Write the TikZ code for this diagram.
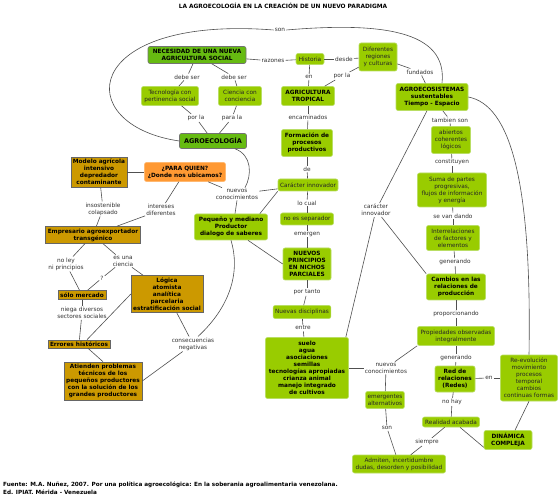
\documentclass[tikz,border=0pt]{standalone}
\usepackage{fontspec}
\setmainfont{DejaVu Sans}
\definecolor{lgreen}{RGB}{153,204,0}
\definecolor{lgborder}{RGB}{185,222,100}
\definecolor{dgreen}{RGB}{102,187,17}
\definecolor{orangebox}{RGB}{255,153,51}
\definecolor{goldbox}{RGB}{204,153,0}
\definecolor{linec}{RGB}{80,80,80}
\definecolor{lblc}{RGB}{51,51,51}
\begin{document}
\begin{tikzpicture}[x=1pt,y=-1pt,
  every node/.style={font=\fontsize{5.8pt}{7pt}\selectfont, align=center},
  base/.style={inner xsep=2pt, inner ysep=1pt, text=black!85},
  lg/.style={base, fill=lgreen, draw=lgborder, line width=0.6pt, rounded corners=2pt},
  lgb/.style={lg, text=black, font=\fontsize{5.8pt}{7pt}\selectfont\bfseries},
  dg/.style={base, text=black, fill=dgreen, draw=black!55, line width=0.6pt, rounded corners=2pt, font=\fontsize{5.8pt}{7pt}\selectfont\bfseries},
  ob/.style={base, text=black, fill=orangebox, draw=orangebox!70!white, line width=0.6pt, rounded corners=2pt, font=\fontsize{5.8pt}{7pt}\selectfont\bfseries},
  gb/.style={base, text=black, fill=goldbox, draw=black!60, line width=0.6pt, font=\fontsize{5.8pt}{7pt}\selectfont\bfseries},
  lbl/.style={inner sep=1pt, text=lblc},
  sz/.style 2 args={minimum width=#1pt, minimum height=#2pt},
  conn/.style={draw=linec, line width=0.6pt}
]
\fill[white] (0,0) rectangle (560,497);
\useasboundingbox (0,0) rectangle (560,497);

% title and source
\node[font=\fontsize{5.85pt}{7pt}\selectfont\bfseries] (title) at (283,6) {LA AGROECOLOGÍA EN LA CREACIÓN DE UN NUEVO PARADIGMA};
\node[anchor=north west, align=left, inner sep=0pt, font=\fontsize{5.7pt}{7.5pt}\selectfont\bfseries] (src) at (3,482) {Fuente: M.A. Nuñez, 2007. Por una política agroecológica: En la soberania agroalimentaria venezolana.\\Ed. IPIAT. Mérida - Venezuela};

% concept nodes
\node[dg, sz={98}{17}] (nec) at (197,55) {NECESIDAD DE UNA NUEVA\\AGRICULTURA SOCIAL};
\node[lg, sz={57}{19}] (tec) at (170,96) {Tecnología con\\pertinencia social};
\node[lg, sz={43}{19}] (cie) at (240,96) {Ciencia con\\conciencia};
\node[dg, sz={67}{15}, font=\fontsize{6.5pt}{8pt}\selectfont\bfseries] (agro) at (213,141) {AGROECOLOGÍA};
\node[ob, sz={81}{19}] (pq) at (185,172) {¿PARA QUIEN?\\¿Donde nos ubicamos?};
\node[gb, sz={56}{30}] (mod) at (99,172) {Modelo agrícola\\intensivo\\depredador\\contaminante};
\node[gb, sz={93}{17}] (emp) at (93,235) {Empresario agroexportador\\transgénico};
\node[lgb, sz={73}{26}] (peq) at (231,227) {Pequeño y mediano\\Productor\\dialogo de saberes};
\node[gb, sz={47}{9}] (sol) at (82,295) {sólo mercado};
\node[gb, sz={70}{37}] (log) at (167,294) {Lógica\\atomista\\analítica\\parcelaria\\estratificación social};
\node[gb, sz={60}{8}] (err) at (79,344) {Errores históricos};
\node[gb, sz={78}{38}] (ati) at (103,381) {Atienden problemas\\técnicos de los\\pequeños productores\\con la solución de los\\grandes productores};
\node[lg, sz={28}{11}] (his) at (310,59) {Historia};
\node[lg, sz={38}{28}] (dif) at (378,57) {Diferentes\\regiones\\y culturas};
\node[lgb, sz={53}{19}] (agt) at (308,96) {AGRICULTURA\\TROPICAL};
\node[lgb, sz={51}{27}] (for) at (307,143) {Formación de\\procesos\\productivos};
\node[lg, sz={60}{12}] (car) at (308,185) {Carácter innovador};
\node[lg, sz={53}{12}] (noe) at (307,219) {no es separador};
\node[lgb, sz={48}{32}] (nue) at (307,264) {NUEVOS\\PRINCIPIOS\\EN NICHOS\\PARCIALES};
\node[lg, sz={50}{13}] (nud) at (302,312) {Nuevas disciplinas};
\node[lgb, sz={83}{61}] (sue) at (307,368) {suelo\\agua\\asociaciones\\semillas\\tecnologías apropiadas\\crianza animal\\manejo integrado\\de cultivos};
\node[lgb, sz={72}{27}] (aes) at (432,97) {AGROECOSISTEMAS\\sustentables\\Tiempo - Espacio};
\node[lg, sz={39}{27}] (abi) at (451,140) {abiertos\\coherentes\\lógicos};
\node[lg, sz={69}{34}] (sum) at (452,190) {Suma de partes\\progresivas,\\flujos de información\\y energía};
\node[lg, sz={53}{25}] (int) at (453,238) {Interrelaciones\\de factores y\\elementos};
\node[lgb, sz={59}{26}] (cam) at (456,287) {Cambios en las\\relaciones de\\producción};
\node[lg, sz={77}{19}] (pro) at (456,336) {Propiedades observadas\\integralmente};
\node[lgb, sz={40}{26}] (red) at (455,379) {Red de\\relaciones\\(Redes)};
\node[lg, sz={57}{46}] (rev) at (529,378) {Re-evolución\\movimiento\\procesos\\temporal\\cambios\\continuas formas};
\node[lg, sz={57}{10}] (rea) at (451,422) {Realidad acabada};
\node[lgb, sz={48}{19}] (din) at (508,440) {DINÁMICA\\COMPLEJA};
\node[lg, sz={38}{17}] (eme) at (385,400) {emergentes\\alternativos};
\node[lg, sz={93}{18}] (adm) at (399,464) {Admiten, incertidumbre\\dudas, desorden y posibilidad};

% link labels
\node[lbl] (son1) at (280,30) {son};
\node[lbl] (raz) at (273,61) {razones};
\node[lbl] (debl) at (187,77) {debe ser};
\node[lbl] (debr) at (234,77) {debe ser};
\node[lbl] (porl) at (196,118) {por la};
\node[lbl] (parl) at (232,118) {para la};
\node[lbl] (des) at (344,59) {desde};
\node[lbl] (en1) at (309,77) {en};
\node[lbl] (porl2) at (342,76) {por la};
\node[lbl] (fun) at (420,72) {fundados};
\node[lbl] (enc) at (308,117) {encaminados};
\node[lbl] (de) at (307,169) {de};
\node[lbl] (loc) at (307,203) {lo cual};
\node[lbl] (emg) at (307,234) {emergen};
\node[lbl] (port) at (307,292) {por tanto};
\node[lbl] (ent) at (303,328) {entre};
\node[lbl] (nc1) at (237,194) {nuevos\\conocimientos};
\node[lbl] (ci) at (376,210) {carácter\\innovador};
\node[lbl] (tam) at (450,120) {tambien son};
\node[lbl] (con) at (452,162) {constituyen};
\node[lbl] (sev) at (453,216) {se van dando};
\node[lbl] (gen1) at (455,262) {generando};
\node[lbl] (prop) at (456,314) {proporcionando};
\node[lbl] (gen2) at (456,358) {generando};
\node[lbl] (en2) at (489,378) {en};
\node[lbl] (noh) at (452,402) {no hay};
\node[lbl] (sie) at (427,442) {siempre};
\node[lbl] (son2) at (387,428) {son};
\node[lbl] (nc2) at (386,368) {nuevos\\conocimientos};
\node[lbl] (ins) at (103,209) {insostenible\\colapsado};
\node[lbl] (intd) at (161,210) {intereses\\diferentes};
\node[lbl] (nol) at (66,264) {no ley\\ni principios};
\node[lbl] (esu) at (123,261) {es una\\ciencia};
\node[lbl] (q) at (102,278) {?};
\node[lbl] (nie) at (82,313) {niega diversos\\sectores sociales};
\node[lbl] (cons) at (193,344) {consecuencias\\negativas};

% connectors
\draw[conn] (agro.west) .. controls (70,125) and (80,15) .. (son1.west);
\draw[conn] (son1.east) .. controls (380,22) and (448,30) .. ([xshift=10pt]aes.north);
\draw[conn] (nec) -- (raz);
\draw[conn] (raz) -- (his);
\draw[conn] (nec) -- (debl);
\draw[conn] (debl) -- (tec);
\draw[conn] (nec) -- (debr);
\draw[conn] (debr) -- (cie);
\draw[conn] (tec) -- (porl);
\draw[conn] (porl) -- (agro);
\draw[conn] (cie) -- (parl);
\draw[conn] (parl) -- (agro);
\draw[conn] (his) -- (des);
\draw[conn] (des) -- (dif);
\draw[conn] (his) -- (en1);
\draw[conn] (en1) -- (agt);
\draw[conn] (dif) -- (porl2);
\draw[conn] (porl2) -- (agt);
\draw[conn] (dif) -- (fun);
\draw[conn] (fun) -- (aes);
\draw[conn] (agt) -- (enc);
\draw[conn] (enc) -- (for);
\draw[conn] (for) -- (de);
\draw[conn] (de) -- (car);
\draw[conn] (car) -- (loc);
\draw[conn] (loc) -- (noe);
\draw[conn] (noe) -- (emg);
\draw[conn] (emg) -- (nue);
\draw[conn] (nue) -- (port);
\draw[conn] (port) -- (nud);
\draw[conn] (nud) -- (ent);
\draw[conn] (ent) -- (sue);
% nuevos conocimientos (1)
\draw[conn] ([xshift=22pt]agro.south) .. controls (252,155) and (252,175) .. ([xshift=8pt]nc1.north);
\draw[conn] (pq) -- (nc1);
\draw[conn] (nc1) -- (car);
\draw[conn] (nc1.south) -- ([xshift=4pt]peq.north);
\draw[conn] (car.south west) -- ([xshift=-8pt]peq.north east);
\draw[conn] ([xshift=17pt]peq.south) -- (nue.west);
% caracter innovador (2)
\draw[conn] ([xshift=-5pt]aes.south) -- (ci);
\draw[conn] (ci) -- ([xshift=-3pt]sue.north east);
\draw[conn] (ci) -- (cam.north west);
% right column
\draw[conn] (aes) -- (tam);
\draw[conn] (tam) -- (abi);
\draw[conn] (abi) -- (con);
\draw[conn] (con) -- (sum);
\draw[conn] (sum) -- (sev);
\draw[conn] (sev) -- (int);
\draw[conn] (int) -- (gen1);
\draw[conn] (gen1) -- (cam);
\draw[conn] (cam) -- (prop);
\draw[conn] (prop) -- (pro);
\draw[conn] (pro) -- (gen2);
\draw[conn] (gen2) -- (red);
\draw[conn] (red) -- (en2);
\draw[conn] (en2) -- (rev);
\draw[conn] (red) -- (noh);
\draw[conn] (noh) -- (rea);
\draw[conn] (rea) -- (sie);
\draw[conn] (sie) -- (adm);
\draw[conn] ([xshift=9pt]rea.south) -- ([yshift=2.5pt]din.south west);
\draw[conn] (rev.south) -- ([xshift=7pt]din.north);
\draw[conn] (aes.east) .. controls (510,105) and (532,180) .. (rev.north);
% nuevos conocimientos (2)
\draw[conn] (pro.south west) -- (nc2);
\draw[conn] (sue.east) -- (nc2);
\draw[conn] (nc2) -- (eme);
\draw[conn] (eme) -- (son2);
\draw[conn] (son2) -- (adm);
% left side
\draw[conn] (mod) -- (pq);
\draw[conn] (mod) -- (ins);
\draw[conn] (ins) -- (emp);
\draw[conn] (pq) -- (intd);
\draw[conn] (intd) -- (emp);
\draw[conn] (emp) -- (nol);
\draw[conn] (nol) -- (sol);
\draw[conn] (emp) -- (esu);
\draw[conn] (esu) -- ([xshift=-24pt]log.north);
\draw[conn] (esu) -- (q);
\draw[conn] (q) -- (sol);
\draw[conn] (sol) -- (nie);
\draw[conn] (nie) -- (err);
\draw[conn] (log.west) -- ([xshift=8pt]err.north);
\draw[conn] ([xshift=9pt]err.south) -- (ati.north);
\draw[conn] (log) -- (cons);
\draw[conn] (peq.south) .. controls (240,270) and (232,305) .. ([xshift=5pt]cons.north);
\draw[conn] (cons) -- (ati.east);
\end{tikzpicture}
\end{document}
